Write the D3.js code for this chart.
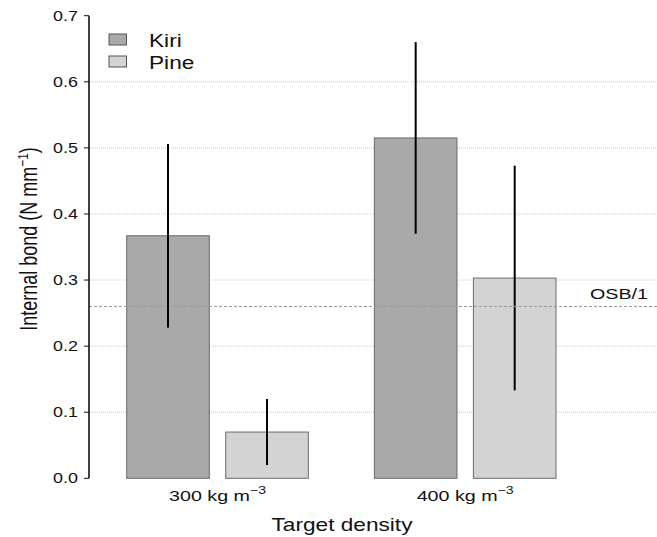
<!DOCTYPE html>
<html>
<head>
<meta charset="utf-8">
<script src="https://cdn.jsdelivr.net/npm/d3@7"></script>
<style>
  html, body { margin: 0; padding: 0; background: #fff; }
  svg { display: block; font-family: "Liberation Sans", Arial, sans-serif; }
</style>
</head>
<body>
<svg id="chart" width="657" height="537"></svg>
<script>
// Internal bond of Kiri and Pine boards at two target densities
const densities = [300, 400];
const species = ["Kiri", "Pine"];
const kiriMean = [0.367, 0.515];
const kiriErr = [0.139, 0.145];
const pineMean = [0.070, 0.303];
const pineErr = [0.050, 0.170];
const yTicks = [0.0, 0.1, 0.2, 0.3, 0.4, 0.5, 0.6, 0.7];
const gridValues = [0.1, 0.2, 0.3, 0.4, 0.5, 0.6];
const osbLimit = 0.26;
const osbLabel = "OSB/1";

const fills = { Kiri: "#a9a9a9", Pine: "#d3d3d3" };
const sx = 1.28; // horizontal glyph stretch

const rows = densities.map((d, i) => ({
  density: d,
  values: [
    { s: "Kiri", mean: kiriMean[i], err: kiriErr[i] },
    { s: "Pine", mean: pineMean[i], err: pineErr[i] }
  ]
}));

const svg = d3.select("#chart");
const axisX = 89, rightEdge = 657;

const y = d3.scaleLinear().domain([0, 0.7]).range([478.3, 15.7]);
const x0 = d3.scaleBand().domain(densities).range([126.7, 556]).paddingInner(0.2666).paddingOuter(0);
const x1 = d3.scaleBand().domain(species).range([0, x0.bandwidth()]).paddingInner(0.1657).paddingOuter(0);

// dotted horizontal guides
svg.append("g").selectAll("line").data(gridValues).join("line")
  .attr("x1", axisX).attr("x2", rightEdge)
  .attr("y1", d => y(d)).attr("y2", d => y(d))
  .attr("stroke", "#c8c8c8").attr("stroke-width", 1)
  .attr("stroke-dasharray", "1,1");

// bars
const groups = svg.append("g").selectAll("g").data(rows).join("g")
  .attr("transform", d => `translate(${x0(d.density)},0)`);

groups.selectAll("rect").data(d => d.values).join("rect")
  .attr("x", d => x1(d.s)).attr("width", x1.bandwidth())
  .attr("y", d => y(d.mean)).attr("height", d => y(0) - y(d.mean))
  .attr("fill", d => fills[d.s])
  .attr("stroke", "#6a6a6a").attr("stroke-width", 1);

// OSB/1 requirement line
svg.append("line")
  .attr("x1", axisX).attr("x2", rightEdge)
  .attr("y1", y(osbLimit)).attr("y2", y(osbLimit))
  .attr("stroke", "#9a9a9a").attr("stroke-width", 1)
  .attr("stroke-dasharray", "3,2");

svg.append("text")
  .attr("transform", `translate(590,${y(osbLimit) - 7.5}) scale(${sx},1)`)
  .attr("font-size", 15.4).attr("fill", "#111")
  .text(osbLabel);

// error bars
groups.selectAll("line.err").data(d => d.values).join("line")
  .attr("class", "err")
  .attr("x1", d => x1(d.s) + x1.bandwidth() / 2)
  .attr("x2", d => x1(d.s) + x1.bandwidth() / 2)
  .attr("y1", d => y(d.mean - d.err)).attr("y2", d => y(d.mean + d.err))
  .attr("stroke", "#000").attr("stroke-width", 2);

// y axis
const yAxis = svg.append("g");
yAxis.append("line")
  .attr("x1", axisX).attr("x2", axisX)
  .attr("y1", y(0)).attr("y2", y(0.7))
  .attr("stroke", "#111").attr("stroke-width", 1.6);
yAxis.selectAll("line.tick").data(yTicks).join("line")
  .attr("class", "tick")
  .attr("x1", axisX - 5).attr("x2", axisX)
  .attr("y1", d => y(d)).attr("y2", d => y(d))
  .attr("stroke", "#111").attr("stroke-width", 1);
yAxis.selectAll("text").data(yTicks).join("text")
  .attr("transform", d => `translate(78,${y(d) + 5}) scale(${sx},1)`)
  .attr("text-anchor", "end").attr("font-size", 14).attr("fill", "#111")
  .text(d3.format(".1f"));

// y title
const yt = svg.append("text")
  .attr("transform", `translate(37,239) rotate(-90) scale(1,${sx})`)
  .attr("text-anchor", "middle").attr("font-size", 18).attr("fill", "#111");
yt.append("tspan").text("Internal bond (N mm");
yt.append("tspan").attr("font-size", 12).attr("dy", -7).text("\u22121");
yt.append("tspan").attr("dy", 7).text(")");

// x category labels
densities.forEach(d => {
  const t = svg.append("text")
    .attr("transform", `translate(${x0(d) + x0.bandwidth() / 2},501) scale(${sx},1)`)
    .attr("text-anchor", "middle").attr("font-size", 15.4).attr("fill", "#111");
  t.append("tspan").text(`${d} kg m`);
  t.append("tspan").attr("font-size", 11).attr("dy", -7).text("\u22123");
});

// x title
svg.append("text")
  .attr("transform", `translate(342,531) scale(${sx},1)`)
  .attr("text-anchor", "middle").attr("font-size", 17.7).attr("fill", "#111")
  .text("Target density");

// legend
const leg = svg.append("g").selectAll("g").data(species).join("g")
  .attr("transform", (d, i) => `translate(109,${34 + i * 22})`);
leg.append("rect")
  .attr("width", 17.5).attr("height", 11)
  .attr("fill", d => fills[d]).attr("stroke", "#555").attr("stroke-width", 1);
leg.append("text")
  .attr("transform", `translate(40,12.5) scale(${sx},1)`)
  .attr("font-size", 17.7).attr("fill", "#111")
  .text(d => d);
</script>
</body>
</html>
